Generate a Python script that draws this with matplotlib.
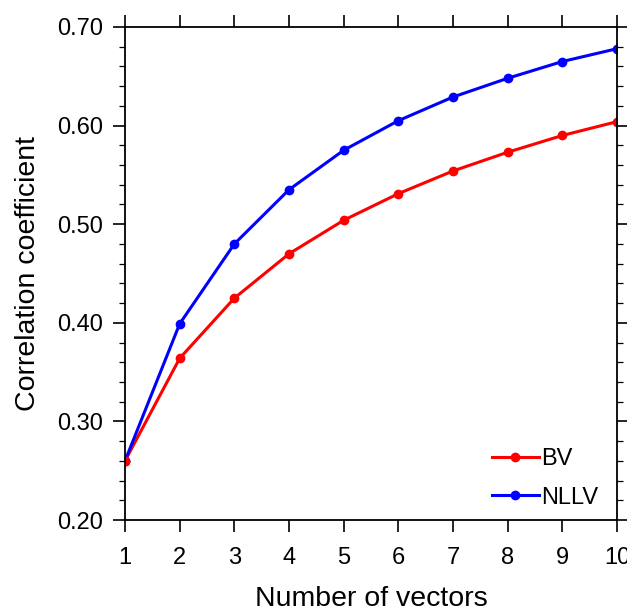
import matplotlib.pyplot as plt
from matplotlib.ticker import MultipleLocator

plt.rcParams['font.family'] = ['Liberation Sans', 'DejaVu Sans']

n_vectors = [1, 2, 3, 4, 5, 6, 7, 8, 9, 10]
bv = [0.260, 0.364, 0.425, 0.470, 0.504, 0.531, 0.554, 0.573, 0.590, 0.604]
nllv = [0.260, 0.399, 0.480, 0.535, 0.575, 0.605, 0.629, 0.648, 0.665, 0.678]

fig = plt.figure(figsize=(6.27, 6.08), dpi=100)
ax = fig.add_axes([0.1994, 0.1447, 0.7847, 0.8109])

ax.plot(n_vectors, bv, color='red', lw=2.2, marker='o', ms=6, label='BV')
ax.plot(n_vectors, nllv, color='blue', lw=2.2, marker='o', ms=6, label='NLLV')
# redraw the shared first point in red on top
ax.plot(n_vectors[:1], bv[:1], color='red', marker='o', ms=6, ls='none')

ax.set_xlim(1, 10)
ax.set_ylim(0.20, 0.70)
ax.xaxis.set_major_locator(MultipleLocator(1))
ax.yaxis.set_major_locator(MultipleLocator(0.1))
ax.yaxis.set_minor_locator(MultipleLocator(0.02))
ax.yaxis.set_major_formatter(plt.FormatStrFormatter('%.2f'))

for s in ax.spines.values():
    s.set_linewidth(1.3)
ax.tick_params(which='major', direction='out', length=8.5, width=1.2,
               labelsize=17, top=True, right=True, pad=7)
ax.tick_params(axis='x', pad=11)
ax.tick_params(which='minor', direction='out', length=4, width=0.9, right=True)

ax.set_xlabel('Number of vectors', fontsize=20.5, labelpad=12)
ax.set_ylabel('Correlation coefficient', fontsize=20.5, labelpad=12)

ax.legend(loc='lower right', bbox_to_anchor=(1.005, -0.02), frameon=False,
          fontsize=17, handlelength=2.0, handletextpad=0.1, labelspacing=0.7)

fig.savefig('out.png', dpi=100)
